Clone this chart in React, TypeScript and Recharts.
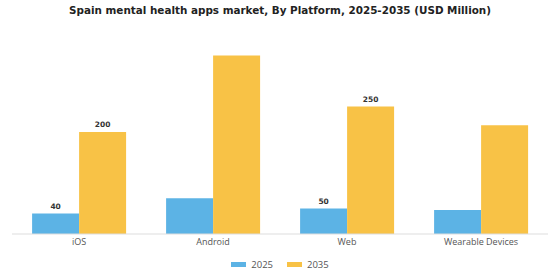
import { Bar, BarChart, LabelList, Legend, XAxis, YAxis } from "recharts";

const platforms = ["iOS", "Android", "Web", "Wearable Devices"];
const values2025 = [40, 70, 50, 47];
const values2035 = [200, 350, 250, 213];
// only these categories carry value labels in the source
const labelled = ["iOS", "Web"];

const BLUE = "#5cb3e5";
const YELLOW = "#f8c246";

const data = platforms.map((p, i) => ({
  platform: p,
  y2025: values2025[i],
  y2035: values2035[i],
}));

const renderLabel = (props: any) => {
  const { x, y, width, value, index } = props;
  if (!labelled.includes(platforms[index])) return null;
  return (
    <text
      x={x + width / 2}
      y={y - 5}
      textAnchor="middle"
      fontSize={7.5}
      fontWeight="bold"
      fill="#333"
      fontFamily="DejaVu Sans"
    >
      {value}
    </text>
  );
};

const renderLegend = () => (
  <div
    style={{
      display: "flex",
      justifyContent: "center",
      gap: 14,
      fontFamily: "Open Sans",
      fontSize: 9.5,
      color: "#555",
      marginTop: 2,
    }}
  >
    {[
      ["2025", BLUE],
      ["2035", YELLOW],
    ].map(([name, color]) => (
      <span key={name} style={{ display: "flex", alignItems: "center", gap: 5 }}>
        <span style={{ width: 15, height: 5, background: color, display: "inline-block" }} />
        {name}
      </span>
    ))}
  </div>
);

export default function App() {
  return (
    <div style={{ position: "absolute", left: 0, top: 0, width: 560, height: 280, background: "#fff" }}>
      <div
        style={{
          position: "absolute",
          top: 4,
          width: 560,
          textAlign: "center",
          fontFamily: "DejaVu Sans",
          fontWeight: "bold",
          fontSize: 10.4,
          color: "#222",
        }}
      >
        Spain mental health apps market, By Platform, 2025-2035 (USD Million)
      </div>
      <BarChart
        width={560}
        height={280}
        data={data}
        margin={{ top: 30, right: 12, left: 12, bottom: 0 }}
        barCategoryGap="15%"
        barGap={0}
      >
        <XAxis
          dataKey="platform"
          height={22}
          tickLine={false}
          tickSize={0}
          tickMargin={5}
          axisLine={{ stroke: "#ddd" }}
          tick={{ fontSize: 9, fill: "#555", fontFamily: "Open Sans" }}
        />
        <YAxis hide domain={[0, 400]} />
        <Legend verticalAlign="bottom" height={24} content={renderLegend} />
        <Bar dataKey="y2025" name="2025" fill={BLUE} isAnimationActive={false}>
          <LabelList dataKey="y2025" content={renderLabel} />
        </Bar>
        <Bar dataKey="y2035" name="2035" fill={YELLOW} isAnimationActive={false}>
          <LabelList dataKey="y2035" content={renderLabel} />
        </Bar>
      </BarChart>
    </div>
  );
}
